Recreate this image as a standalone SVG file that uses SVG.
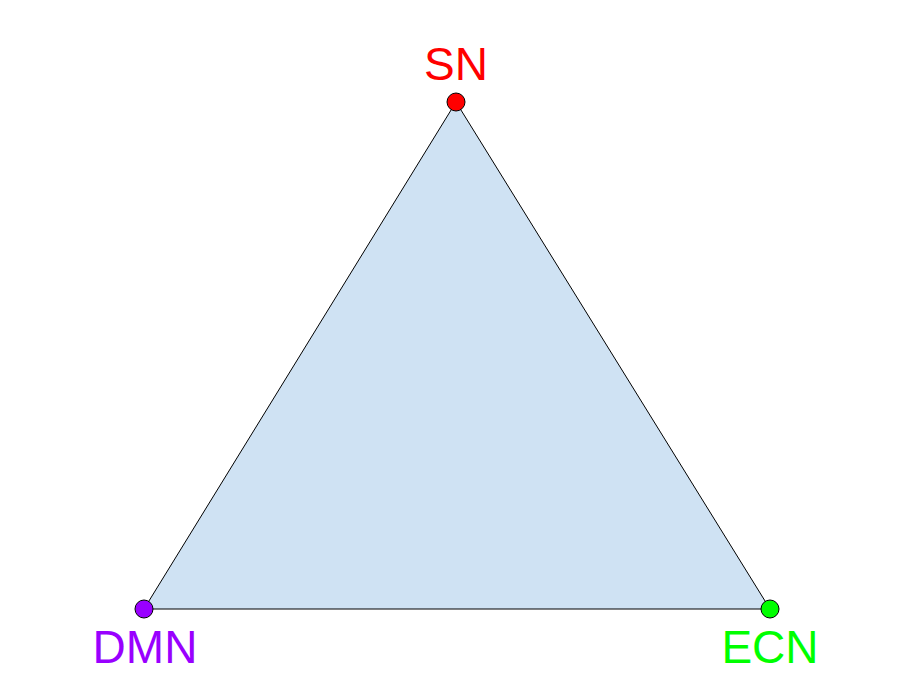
<svg xmlns="http://www.w3.org/2000/svg" width="911" height="696" viewBox="0 0 911 696">
<style>
.lbl{font-family:"Liberation Sans",Arial,sans-serif;font-size:46px;text-anchor:middle}
.dot{stroke:#000;stroke-width:1}
</style>
<rect width="911" height="696" fill="#fff"/>
<g id="connectors">
<polygon points="456,102 770,609 144,609" fill="#cfe2f3" stroke="#000" stroke-width="1"/>
</g>
<g id="SN">
<circle class="dot" cx="456" cy="102" r="9" fill="#ff0000"/>
<text class="lbl" x="456" y="80" fill="#ff0000">SN</text>
</g>
<g id="DMN">
<circle class="dot" cx="144" cy="609" r="9" fill="#9900ff"/>
<text class="lbl" x="145" y="663" fill="#9900ff">DMN</text>
</g>
<g id="ECN">
<circle class="dot" cx="770" cy="609" r="9" fill="#00ff00"/>
<text class="lbl" x="770" y="663" fill="#00ff00">ECN</text>
</g>
</svg>
